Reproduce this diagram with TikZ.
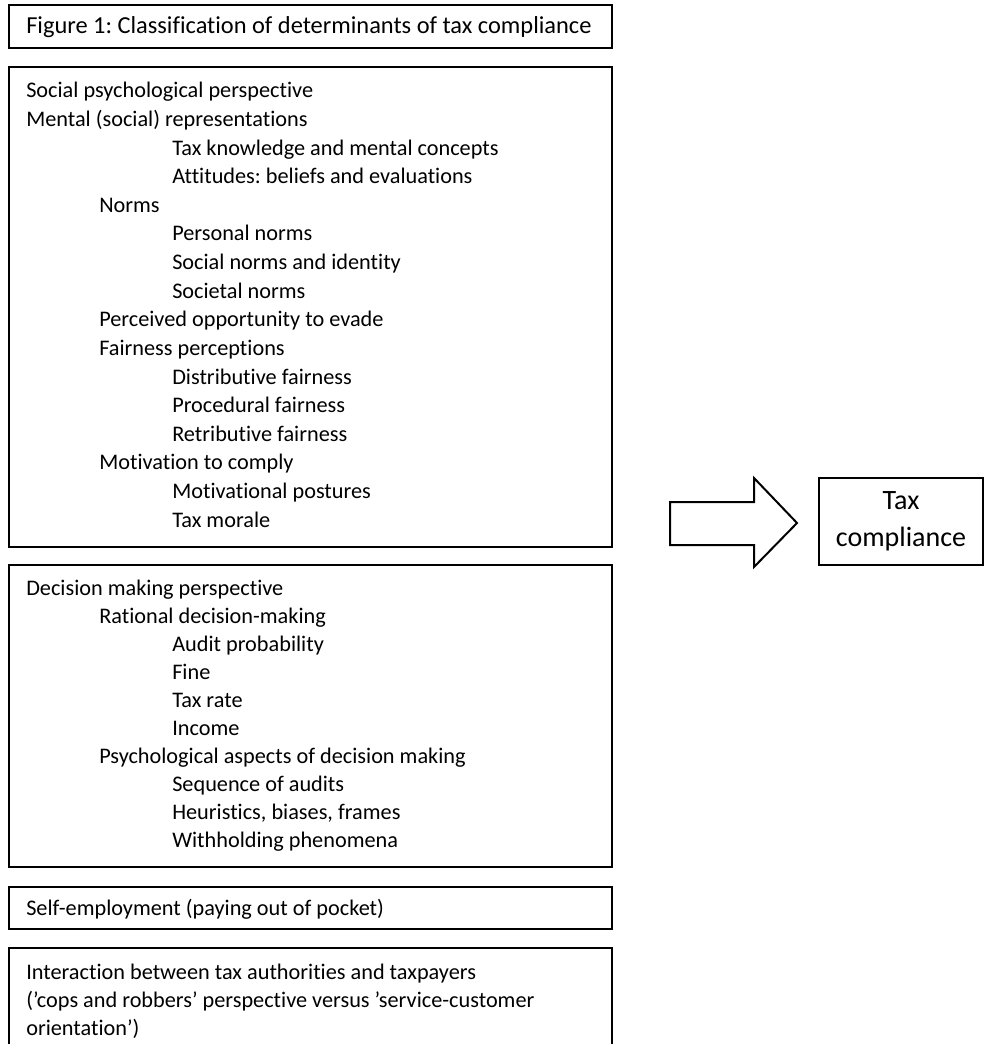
\documentclass[tikz,border=0pt]{standalone}
\usepackage{fontspec}
\setmainfont{Carlito}[Ligatures={TeX,NoCommon}]
\usetikzlibrary{fit, positioning}
\frenchspacing

\begin{document}
\begin{tikzpicture}[
    x=0.75pt, y=-0.75pt,
    box/.style={draw, line width=1.4pt, inner sep=0pt},
    item/.style={anchor=base west, inner sep=0pt, font=\fontsize{16.7pt}{20pt}\selectfont},
    blockarrow/.style={draw, line width=1.5pt, line join=miter, fill=white},
  ]
  \clip (0,0) rectangle (984,1044);
  \fill[white] (0,0) rectangle (984,1044);

  % Boxes
  \node[box, fit={(9,5) (612,48)}] (title) {};
  \node[box, fit={(9,67) (612,547)}] (social) {};
  \node[box, fit={(9,565) (612,867)}] (decision) {};
  \node[box, fit={(9,887) (612,929)}] (selfemp) {};
  \node[box, fit={(9,948) (612,1060)}] (interact) {};
  \node[box, line width=1.1pt, fit={(819,478) (983,565)}] (taxbox) {};

  % Title
  \node[item, font=\fontsize{18.3pt}{22pt}\selectfont] (titletxt) at (26,34)
    {Figure 1: Classification of determinants of tax compliance};

  % Social psychological perspective
  \foreach \lvl/\txt [count=\i from 0] in {
      0/Social psychological perspective,
      0/Mental (social) representations,
      2/Tax knowledge and mental concepts,
      2/Attitudes: beliefs and evaluations,
      1/Norms,
      2/Personal norms,
      2/Social norms and identity,
      2/Societal norms,
      1/Perceived opportunity to evade,
      1/Fairness perceptions,
      2/Distributive fairness,
      2/Procedural fairness,
      2/Retributive fairness,
      1/Motivation to comply,
      2/Motivational postures,
      2/Tax morale}
    \node[item] (sp\i) at ({26+73*\lvl}, {98+28.6*\i}) {\txt};

  % Decision making perspective
  \foreach \lvl/\txt [count=\i from 0] in {
      0/Decision making perspective,
      1/Rational decision-making,
      2/Audit probability,
      2/Fine,
      2/Tax rate,
      2/Income,
      1/Psychological aspects of decision making,
      2/Sequence of audits,
      2/{Heuristics, biases, frames},
      2/Withholding phenomena}
    \node[item] (dm\i) at ({26+73*\lvl}, {595+28*\i}) {\txt};

  % Self-employment and interaction
  \node[item] (se) at (26,915) {Self-employment (paying out of pocket)};
  \node[item] (ia1) at (26,979) {Interaction between tax authorities and taxpayers};
  \node[item] (ia2) at (26,1007) {(’cops and robbers’ perspective versus ’service-customer};
  \node[item] (ia3) at (26,1035) {orientation’)};

  % Block arrow and outcome
  \draw[blockarrow] (670,502) -- (754,502) -- (754,478) -- (797,523)
    -- (754,567) -- (754,545) -- (670,545) -- cycle;
  \node[align=center, inner sep=0pt, font=\fontsize{21pt}{27.75pt}\selectfont]
    (taxtxt) at (taxbox.center) {Tax\\compliance};
\end{tikzpicture}
\end{document}
